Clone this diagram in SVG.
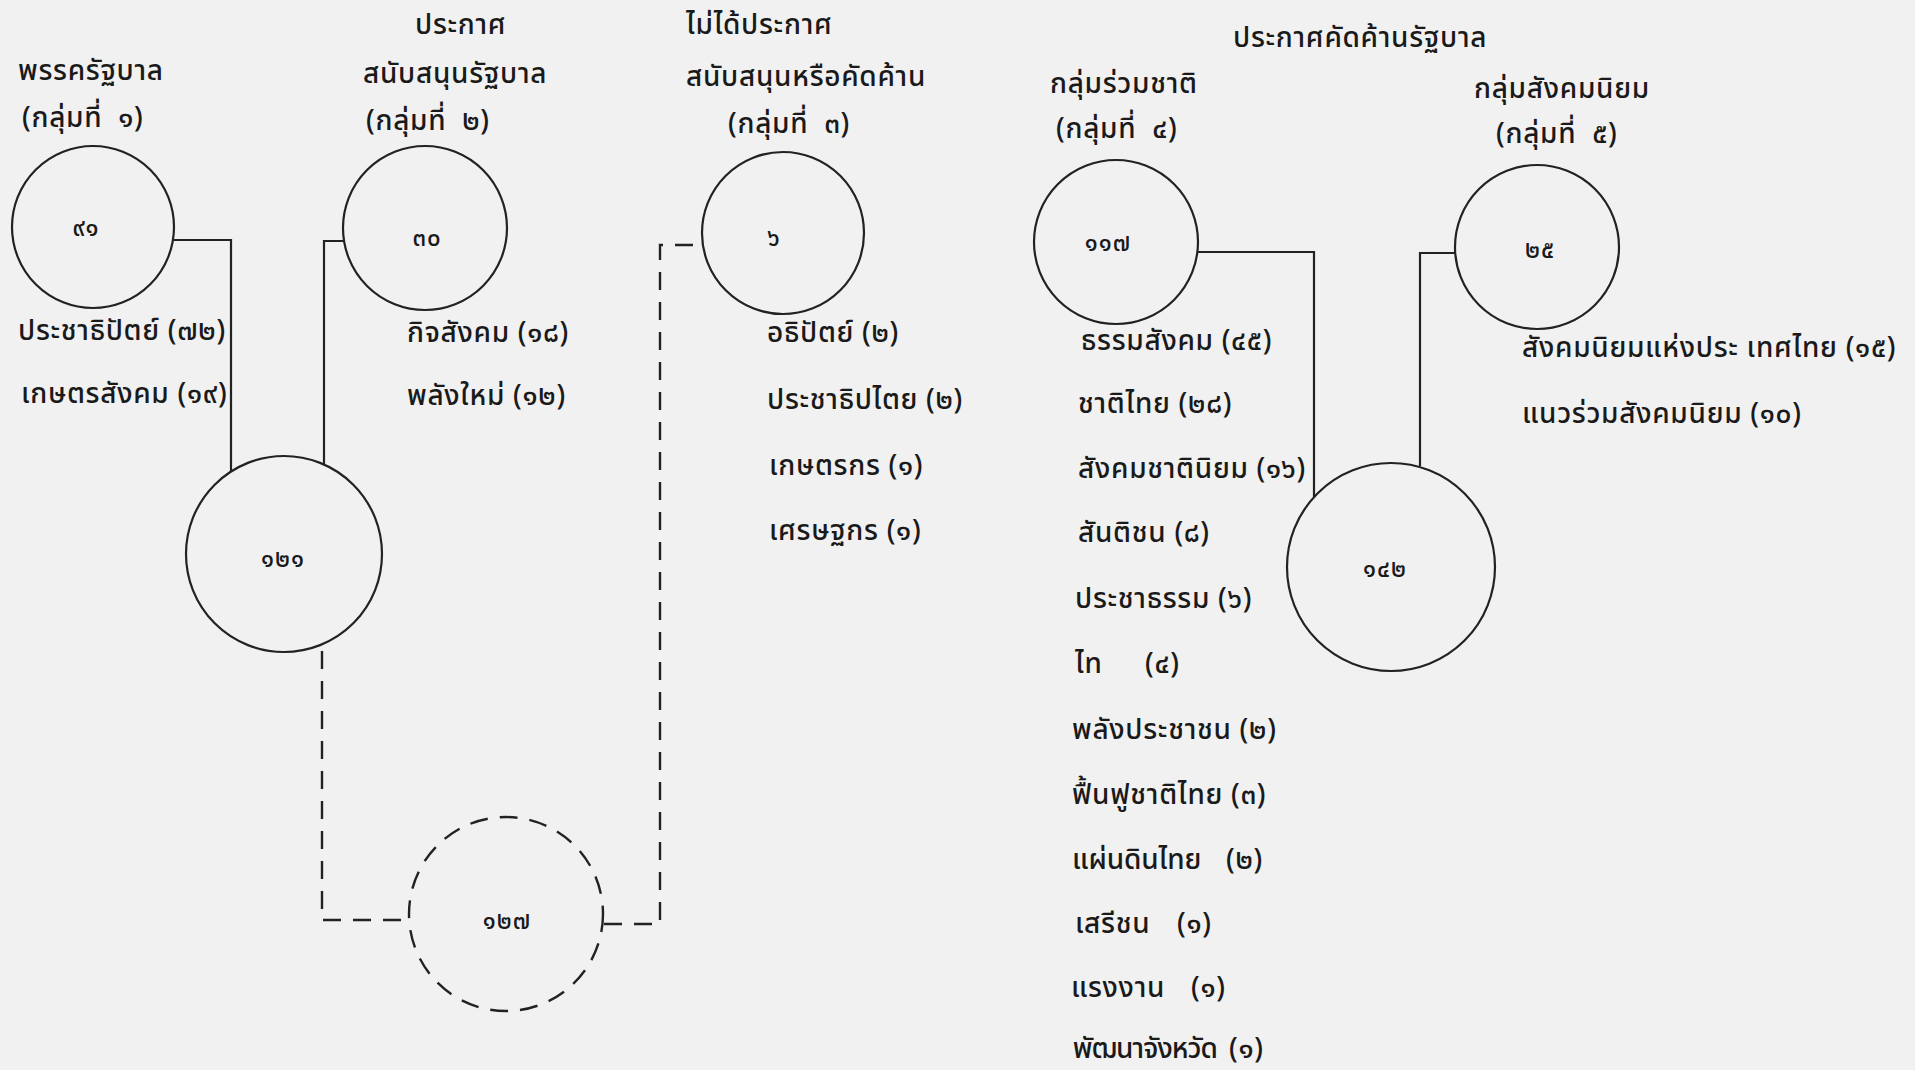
<svg xmlns="http://www.w3.org/2000/svg" width="1915" height="1070" viewBox="0 0 1915 1070">
<style>
.bg{fill:#f1f1f1}
.c{fill:none;stroke:#222;stroke-width:2.2}
.cd{fill:none;stroke:#222;stroke-width:2.4;stroke-dasharray:18 12}
.ln{fill:none;stroke:#222;stroke-width:2.2}
.ld{fill:none;stroke:#222;stroke-width:2.4;stroke-dasharray:18 12}
text{font-family:"Noto Sans Thai","Noto Sans","DejaVu Sans",sans-serif;fill:#1a1a1a;font-weight:500}
.h{font-size:28px;letter-spacing:0.7px}
.t{font-size:28px;letter-spacing:0.7px}
.n{font-size:24px;text-anchor:middle;letter-spacing:1px}
</style>
<rect class="bg" x="0" y="0" width="1915" height="1070"/>
<g id="headers">
<text class="h" x="18" y="80">พรรครัฐบาล</text>
<text class="h" x="22" y="127">(กลุ่มที่&#160;&#160;๑)</text>
<text class="h" x="415" y="34">ประกาศ</text>
<text class="h" x="363" y="83">สนับสนุนรัฐบาล</text>
<text class="h" x="366" y="130">(กลุ่มที่&#160;&#160;๒)</text>
<text class="h" x="686" y="34">ไม่ได้ประกาศ</text>
<text class="h" x="686" y="86">สนับสนุนหรือคัดค้าน</text>
<text class="h" x="728" y="133">(กลุ่มที่&#160;&#160;๓)</text>
<text class="h" x="1233" y="47">ประกาศคัดค้านรัฐบาล</text>
<text class="h" x="1050" y="93">กลุ่มร่วมชาติ</text>
<text class="h" x="1056" y="138">(กลุ่มที่&#160;&#160;๔)</text>
<text class="h" x="1474" y="98">กลุ่มสังคมนิยม</text>
<text class="h" x="1496" y="143">(กลุ่มที่&#160;&#160;๕)</text>
</g>
<g id="connectors">
<path class="ln" d="M174,240 H231 V472"/>
<path class="ln" d="M343,241 H324 V464"/>
<path class="ld" d="M322,651 V920 H408"/>
<path class="ld" d="M604,924 H660 V245 H701"/>
<path class="ln" d="M1197,252 H1314 V497"/>
<path class="ln" d="M1455,253 H1420 V466"/>
</g>
<g id="node-91"><circle class="c" cx="93" cy="227" r="81"/><text class="n" x="86" y="236">๙๑</text></g>
<g id="node-30"><circle class="c" cx="425" cy="228" r="82"/><text class="n" x="427" y="246">๓๐</text></g>
<g id="node-6"><circle class="c" cx="783" cy="233" r="81"/><text class="n" x="774" y="246">๖</text></g>
<g id="node-117"><circle class="c" cx="1116" cy="242" r="82"/><text class="n" x="1108" y="251">๑๑๗</text></g>
<g id="node-25"><circle class="c" cx="1537" cy="247" r="82"/><text class="n" x="1540" y="258">๒๕</text></g>
<g id="node-121"><circle class="c" cx="284" cy="554" r="98"/><text class="n" x="283" y="567">๑๒๑</text></g>
<g id="node-127"><circle class="cd" cx="506" cy="914" r="97"/><text class="n" x="507" y="929">๑๒๗</text></g>
<g id="node-142"><circle class="c" cx="1391" cy="567" r="104"/><text class="n" x="1385" y="577">๑๔๒</text></g>
<g id="labels-1">
<text class="t" x="18" y="340">ประชาธิปัตย์ (๗๒)</text>
<text class="t" x="21" y="403">เกษตรสังคม (๑๙)</text>
</g>
<g id="labels-2">
<text class="t" x="407" y="342">กิจสังคม (๑๘)</text>
<text class="t" x="407" y="405">พลังใหม่ (๑๒)</text>
</g>
<g id="labels-3">
<text class="t" x="767" y="342">อธิปัตย์ (๒)</text>
<text class="t" x="767" y="409">ประชาธิปไตย (๒)</text>
<text class="t" x="769" y="475">เกษตรกร (๑)</text>
<text class="t" x="769" y="540">เศรษฐกร (๑)</text>
</g>
<g id="labels-4">
<text class="t" x="1081" y="350">ธรรมสังคม (๔๕)</text>
<text class="t" x="1078" y="413">ชาติไทย (๒๘)</text>
<text class="t" x="1078" y="478">สังคมชาตินิยม (๑๖)</text>
<text class="t" x="1078" y="542">สันติชน (๘)</text>
<text class="t" x="1075" y="608">ประชาธรรม (๖)</text>
<text class="t" x="1075" y="673">ไท</text>
<text class="t" x="1145" y="673">(๔)</text>
<text class="t" x="1072" y="739">พลังประชาชน (๒)</text>
<text class="t" x="1072" y="804">ฟื้นฟูชาติไทย (๓)</text>
<text class="t" x="1072" y="869" textLength="130">แผ่นดินไทย</text>
<text class="t" x="1226" y="869">(๒)</text>
<text class="t" x="1075" y="933">เสรีชน</text>
<text class="t" x="1177" y="933">(๑)</text>
<text class="t" x="1071" y="997">แรงงาน</text>
<text class="t" x="1191" y="997">(๑)</text>
<text class="t" x="1071" y="1058" textLength="146">พัฒนาจังหวัด</text>
<text class="t" x="1229" y="1058">(๑)</text>
</g>
<g id="labels-5">
<text class="t" x="1522" y="357">สังคมนิยมแห่งประ เทศไทย (๑๕)</text>
<text class="t" x="1522" y="423">แนวร่วมสังคมนิยม (๑๐)</text>
</g>
</svg>
